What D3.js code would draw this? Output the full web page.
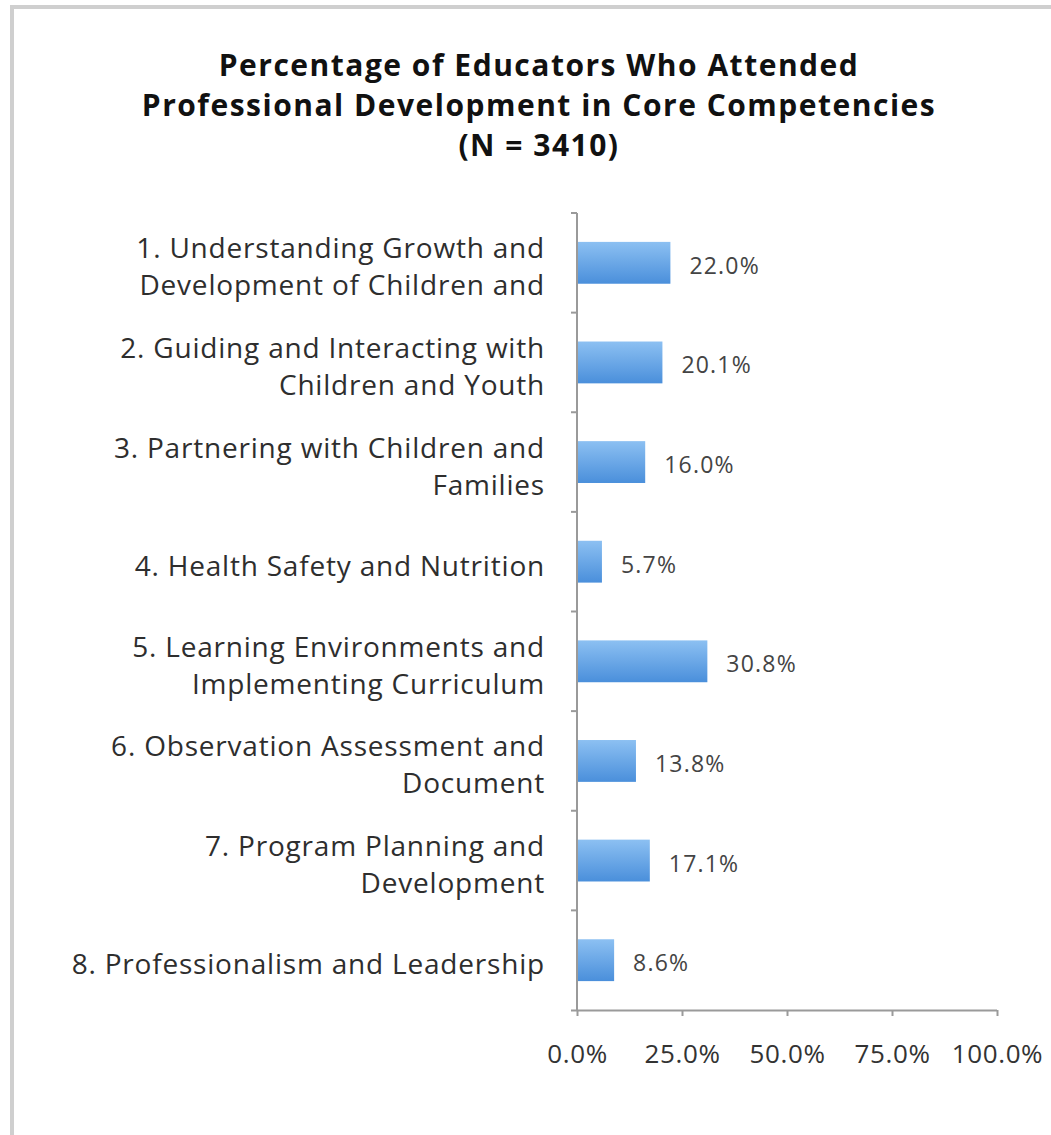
<!DOCTYPE html>
<html lang="en">
<head>
    <meta charset="UTF-8">
    <title>Percentage of Educators Who Attended Professional Development</title>
    <script src="https://d3js.org/d3.v7.min.js"></script>
    <style>
        body { margin: 0; background: #fff; font-family: "Open Sans", Lato, sans-serif; }
        svg { display: block; }
    </style>
</head>
<body>
    <svg width="1051" height="1135"></svg>
    <script>
        // Data
        const categories = [
            ["1. Understanding Growth and", "Development of Children and"],
            ["2. Guiding and Interacting with", "Children and Youth"],
            ["3. Partnering with Children and", "Families"],
            ["4. Health Safety and Nutrition"],
            ["5. Learning Environments and", "Implementing Curriculum"],
            ["6. Observation Assessment and", "Document"],
            ["7. Program Planning and", "Development"],
            ["8. Professionalism and Leadership"]
        ];
        const values = [22.0, 20.1, 16.0, 5.7, 30.8, 13.8, 17.1, 8.6];
        const xTicks = [0, 25, 50, 75, 100];
        const titleLines = [
            "Percentage of Educators Who Attended",
            "Professional Development in Core Competencies",
            "(N = 3410)"
        ];

        const svg = d3.select("svg");

        // frame (left and top edges visible)
        svg.append("path")
            .attr("d", "M12,1135 V7 H1051")
            .attr("fill", "none")
            .attr("stroke", "#cfcfcf")
            .attr("stroke-width", 4);

        // gradient for bars
        const grad = svg.append("defs").append("linearGradient")
            .attr("id", "barGrad")
            .attr("x1", 0).attr("y1", 0).attr("x2", 0).attr("y2", 1);
        grad.append("stop").attr("offset", "0%").attr("stop-color", "#8cc0f2");
        grad.append("stop").attr("offset", "100%").attr("stop-color", "#4a8fdb");

        // title
        svg.append("g").selectAll("text")
            .data(titleLines)
            .enter()
            .append("text")
            .attr("x", 539)
            .attr("y", (d, i) => 76 + i * 40)
            .attr("text-anchor", "middle")
            .attr("font-size", 30)
            .attr("letter-spacing", 1.5)
            .attr("font-weight", "bold")
            .attr("fill", "#111")
            .text(d => d);

        const idx = d3.range(categories.length);
        const x = d3.scaleLinear().domain([0, 100]).range([577, 997]);
        const y = d3.scaleBand().domain(idx).range([213, 1010])
            .paddingInner(0.58).paddingOuter(0.29);
        const step = y.step();

        // axes
        const axisColor = "#9a9a9a";
        const xAxis = svg.append("g")
            .attr("transform", "translate(0,1010)")
            .call(d3.axisBottom(x).tickValues(xTicks).tickSize(6)
                .tickFormat(d => d.toFixed(1) + "%"));
        xAxis.select(".domain").attr("stroke", axisColor).attr("stroke-width", 2)
            .attr("d", "M571,0.5H997");
        xAxis.selectAll(".tick line").attr("stroke", axisColor).attr("stroke-width", 2);
        xAxis.selectAll(".tick text")
            .attr("y", 53)
            .attr("dy", 0)
            .attr("font-size", 26)
            .attr("letter-spacing", 0.6)
            .attr("font-family", "'Open Sans', sans-serif")
            .attr("fill", "#333");

        // y axis line with ticks between categories
        svg.append("line")
            .attr("x1", 577).attr("x2", 577)
            .attr("y1", 213).attr("y2", 1010)
            .attr("stroke", axisColor).attr("stroke-width", 2);
        svg.append("g").selectAll("line")
            .data(d3.range(categories.length))
            .enter()
            .append("line")
            .attr("x1", 571).attr("x2", 577)
            .attr("y1", d => 213 + d * step)
            .attr("y2", d => 213 + d * step)
            .attr("stroke", axisColor).attr("stroke-width", 2);

        // bars
        svg.append("g").selectAll("rect")
            .data(idx)
            .enter()
            .append("rect")
            .attr("x", x(0) + 1)
            .attr("y", d => y(d))
            .attr("width", d => x(values[d]) - x(0))
            .attr("height", y.bandwidth())
            .attr("fill", "url(#barGrad)");

        // value labels
        svg.append("g").selectAll("text")
            .data(idx)
            .enter()
            .append("text")
            .attr("x", d => x(values[d]) + 20)
            .attr("y", d => y(d) + y.bandwidth() / 2 + 11)
            .attr("font-size", 23)
            .attr("letter-spacing", 1.2)
            .attr("fill", "#444")
            .text(d => values[d].toFixed(1) + "%");

        // category labels
        const labels = svg.append("g").selectAll("text")
            .data(idx)
            .enter()
            .append("text")
            .attr("text-anchor", "end")
            .attr("font-size", 28)
            .attr("letter-spacing", 0.8)
            .attr("fill", "#2e2e2e");
        labels.each(function(d) {
            const lines = categories[d];
            const cy = y(d) + y.bandwidth() / 2;
            const lh = 37;
            const top = cy - (lines.length - 1) * lh / 2 + 14;
            d3.select(this).selectAll("tspan")
                .data(lines)
                .enter()
                .append("tspan")
                .attr("x", 545)
                .attr("y", (t, i) => top + i * lh)
                .text(t => t);
        });
    </script>
</body>
</html>
